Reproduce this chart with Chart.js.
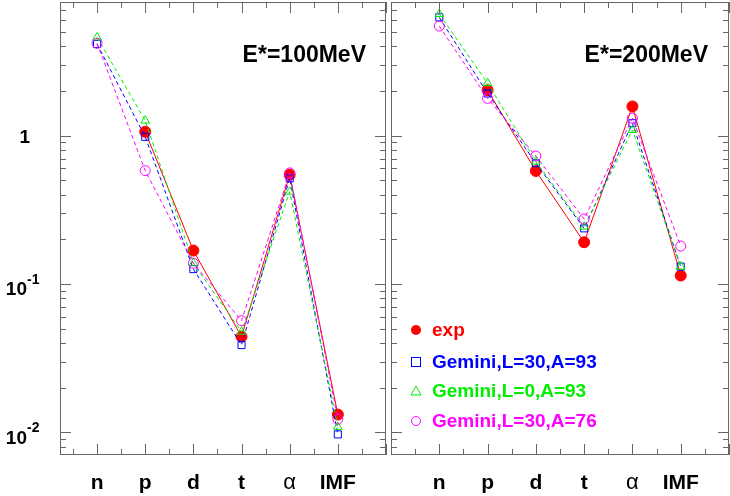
<!doctype html>
<html>
<head>
<style>
  body { margin: 0; background: #fff; }
  canvas { position: absolute; top: 0; }
  #c1 { left: 0; }
  #c2 { left: 386px; }
</style>
</head>
<body>
<div style="position:relative;width:730px;height:496px">
  <canvas id="c1" width="390" height="496" style="width:390px;height:496px"></canvas>
  <canvas id="c2" width="344" height="496" style="width:344px;height:496px"></canvas>
</div>
<script src="https://cdn.jsdelivr.net/npm/chart.js"></script>
<script>
// particle categories
var categories = ['n', 'p', 'd', 't', '\u03b1', 'IMF'];

// E*=100MeV
var exp100    = [null, 1.06, 0.168, 0.0442, 0.545, 0.0132];
var gemL30A93_100 = [4.13, 0.98, 0.126, 0.0388, 0.515, 0.0097];
var gemL0A93_100  = [4.58, 1.26, 0.138, 0.0477, 0.418, 0.0109];
var gemL30A76_100 = [4.18, 0.58, 0.138, 0.0566, 0.56, 0.0123];

// E*=200MeV
var exp200    = [null, 2.02, 0.577, 0.191, 1.57, 0.114];
var gemL30A93_200 = [6.25, 1.92, 0.65, 0.237, 1.21, 0.131];
var gemL0A93_200  = [6.58, 2.25, 0.667, 0.243, 1.09, 0.131];
var gemL30A76_200 = [5.46, 1.78, 0.728, 0.274, 1.31, 0.18];

var yMajor = [1, 0.1, 0.01];
var yMajorLabels = [['1', ''], ['10', '-1'], ['10', '-2']];

function pts(arr) {
  return arr.map(function (v, i) { return { x: i, y: v }; }).filter(function (p) { return p.y !== null; });
}

function ds(label, arr, color, style, dashed, filled) {
  return {
    label: label, data: pts(arr), borderColor: color, borderWidth: 1,
    borderDash: dashed ? [4, 3] : [], pointStyle: style,
    pointRadius: filled ? 5.5 : 5, pointBorderWidth: 1,
    pointBackgroundColor: filled ? color : 'rgba(0,0,0,0)',
    pointBorderColor: color, fill: false, tension: 0
  };
}

var frame = {
  id: 'frame',
  afterDraw: function (chart, args, o) {
    var c = chart.ctx, a = chart.chartArea, x = chart.scales.x, y = chart.scales.y;
    c.save();
    c.strokeStyle = '#666'; c.lineWidth = 1;
    c.strokeRect(a.left + 0.5, a.top + 0.5, a.right - a.left - 1, a.bottom - a.top - 1);
    c.beginPath();
    for (var d = -3; d <= 1; d++) {
      for (var m = 1; m <= 9; m++) {
        var v = m * Math.pow(10, d);
        if (v < y.min || v > y.max) continue;
        var py = Math.round(y.getPixelForValue(v)) + 0.5;
        var len = m === 1 ? 11 : 6;
        c.moveTo(a.left, py); c.lineTo(a.left + len, py);
        c.moveTo(a.right, py); c.lineTo(a.right - len, py);
      }
    }
    for (var k = -2; k <= 13; k++) {
      var xv = k / 2;
      if (xv < x.min || xv > x.max) continue;
      var px = Math.round(x.getPixelForValue(xv)) + 0.5;
      var l2 = k % 2 === 0 ? 11 : 6;
      c.moveTo(px, a.bottom); c.lineTo(px, a.bottom - l2);
      c.moveTo(px, a.top); c.lineTo(px, a.top + l2);
    }
    c.stroke();
    c.fillStyle = '#000';
    c.textAlign = 'center'; c.textBaseline = 'middle';
    categories.forEach(function (t, i) {
      c.font = (i === 4 ? '22px' : 'bold 21px') + ' "Liberation Sans"';
      c.fillText(t, x.getPixelForValue(i), 483);
    });
    if (o.yLabels) {
      yMajor.forEach(function (v, i) {
        var py = y.getPixelForValue(v);
        var lab = yMajorLabels[i];
        c.textAlign = 'right'; c.font = 'bold 19px "Liberation Sans"';
        if (lab[1] === '') { c.fillText(lab[0], 30, py + 2); }
        else {
          c.fillText(lab[0], 27, py + 6);
          c.textAlign = 'left'; c.font = 'bold 14px "Liberation Sans"';
          c.fillText(lab[1], 27, py - 4);
        }
      });
    }
    c.textAlign = 'right'; c.font = 'bold 23px "Liberation Sans"';
    c.fillText(o.title, a.right - o.titleRight, 56);
    if (o.legend) {
      var items = chart.data.datasets.slice().reverse();
      var rows = [330, 362, 391, 421];
      items.forEach(function (d, i) {
        var ly = rows[i], lx = a.left + 25;
        c.strokeStyle = d.borderColor; c.fillStyle = d.borderColor; c.lineWidth = 1;
        c.beginPath();
        if (d.pointStyle === 'circle' && d.pointBackgroundColor !== 'rgba(0,0,0,0)') {
          c.arc(lx, ly, 5, 0, Math.PI * 2); c.fill();
        } else if (d.pointStyle === 'circle') {
          c.arc(lx, ly, 4.5, 0, Math.PI * 2); c.stroke();
        } else if (d.pointStyle === 'rect') {
          c.strokeRect(lx - 4.5, ly - 4.5, 9, 9);
        } else {
          c.moveTo(lx, ly - 5); c.lineTo(lx + 5, ly + 4); c.lineTo(lx - 5, ly + 4); c.closePath(); c.stroke();
        }
        c.textAlign = 'left'; c.font = 'bold 19px "Liberation Sans"';
        c.fillText(d.label, lx + 16, ly + 1);
      });
    }
    c.restore();
  }
};

function make(id, e, b, g, m, xmin, opts, pad) {
  new Chart(document.getElementById(id), {
    type: 'line',
    data: {
      datasets: [
        ds('Gemini,L=30,A=76', m, '#ff00ff', 'circle', true, false),
        ds('Gemini,L=0,A=93', g, '#00ee00', 'triangle', true, false),
        ds('Gemini,L=30,A=93', b, '#0000ff', 'rect', true, false),
        ds('exp', e, '#ff0000', 'circle', false, true)
      ]
    },
    options: {
      responsive: false, animation: false,
      layout: { padding: pad, autoPadding: false },
      plugins: { legend: { display: false }, tooltip: { enabled: false }, frame: opts },
      scales: {
        x: { type: 'linear', min: xmin, max: 6.0, display: false },
        y: { type: 'logarithmic', min: 0.00705, max: 7.93, display: false }
      }
    },
    plugins: [frame]
  });
}

make('c1', exp100, gemL30A93_100, gemL0A93_100, gemL30A76_100, -0.77,
  { title: 'E*=100MeV', titleRight: 20, yLabels: true, legend: false },
  { left: 60, top: 2, right: 4, bottom: 41 });
make('c2', exp200, gemL30A93_200, gemL0A93_200, gemL30A76_200, -1.0,
  { title: 'E*=200MeV', titleRight: 21, yLabels: false, legend: true },
  { left: 5, top: 2, right: 1, bottom: 41 });
</script>
</body>
</html>
